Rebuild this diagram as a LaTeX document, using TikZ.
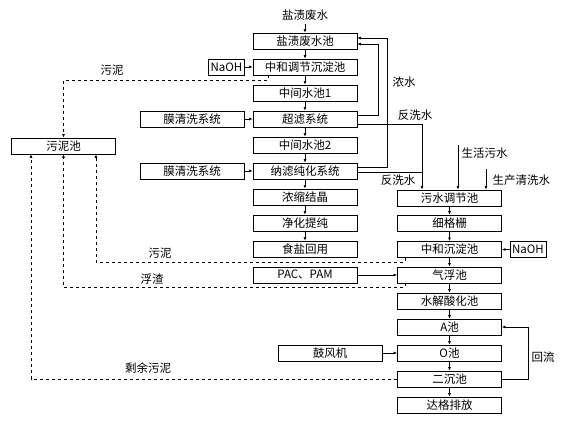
\documentclass[tikz,border=0pt]{standalone}
\usepackage{fontspec}
\setmainfont{Noto Sans CJK SC}
\usetikzlibrary{arrows.meta}

\tikzset{
  box/.style={draw, line width=0.8pt, minimum height=16pt, inner sep=0pt, font=\fontsize{11.5}{12}\selectfont},
  mainbox/.style={box, minimum width=104pt},
  smallbox/.style={box, minimum width=36pt},
  lbl/.style={font=\fontsize{11.5}{12}\selectfont},
  arr/.style={line width=0.7pt, -{Latex[length=3.5pt,width=3pt]}},
  sline/.style={line width=0.7pt},
  dsh/.style={line width=0.8pt, dash pattern=on 3pt off 3pt}
}

\begin{document}
\begin{tikzpicture}[x=1pt,y=-1pt]
  \useasboundingbox (0,0) rectangle (583,439);

  % main column (brine treatment)
  \node[lbl] (raw) at (305,15) {盐渍废水};
  \node[mainbox] (pool) at (305,41) {盐渍废水池};
  \node[mainbox] (neut) at (305,67) {中和调节沉淀池};
  \node[mainbox] (mid1) at (305,93) {中间水池1};
  \node[mainbox] (uf) at (305,119) {超滤系统};
  \node[mainbox] (mid2) at (305,145) {中间水池2};
  \node[mainbox] (nf) at (305,171) {纳滤纯化系统};
  \node[mainbox] (conc) at (305,197) {浓缩结晶};
  \node[mainbox] (puri) at (305,223) {净化提纯};
  \node[mainbox] (salt) at (305,249) {食盐回用};
  \node[mainbox] (pac) at (305,275) {PAC、PAM};

  % side boxes
  \node[smallbox] (naohA) at (226.5,67) {NaOH};
  \node[mainbox] (cleanA) at (192,119) {膜清洗系统};
  \node[mainbox] (cleanB) at (192,171) {膜清洗系统};
  \node[mainbox] (sludge) at (63.5,146) {污泥池};

  % right column (sewage treatment)
  \node[mainbox] (adj) at (449.5,198) {污水调节池};
  \node[mainbox] (grid) at (449.5,223) {细格栅};
  \node[mainbox] (neutB) at (449.5,249.5) {中和沉淀池};
  \node[smallbox] (naohB) at (528,249.5) {NaOH};
  \node[mainbox] (flot) at (449.5,275) {气浮池};
  \node[mainbox] (hydro) at (449.5,301) {水解酸化池};
  \node[mainbox] (apool) at (449.5,327) {A池};
  \node[mainbox] (opool) at (449.5,353) {O池};
  \node[mainbox] (blower) at (330,353) {鼓风机};
  \node[mainbox] (sec) at (449.5,379) {二沉池};
  \node[mainbox] (out) at (449.5,405) {达格排放};

  % main flow
  \draw[arr] (raw) -- (pool);
  \foreach \a/\b in {pool/neut, neut/mid1, mid1/uf, uf/mid2, mid2/nf, nf/conc, conc/puri, puri/salt}
    \draw[arr] (\a) -- (\b);
  \foreach \a/\b in {adj/grid, grid/neutB, neutB/flot, flot/hydro, hydro/apool, apool/opool, opool/sec, sec/out}
    \draw[arr] (\a) -- (\b);

  \draw[arr] (naohA) -- (neut);
  \draw[arr] (cleanA) -- (uf);
  \draw[arr] (cleanB) -- (nf);
  \draw[arr] (naohB) -- (neutB);
  \draw[arr] (pac) -- (flot);
  \draw[arr] (blower) -- (opool);

  % concentrate back to the brine pool
  \draw[arr] ([yshift=4pt]uf.east) -- ++(21,0) |- ([yshift=-3pt]pool.east);
  \draw[arr] ([yshift=4pt]nf.east) -- ++(30,0) |- ([yshift=3pt]pool.east);
  \node[lbl] (lconc) at (404,82) {浓水};

  % backwash water
  \draw[arr] ([yshift=-5pt]uf.east) -| ([xshift=-27.5pt]adj.north);
  \draw[sline] ([yshift=-1pt]nf.east) -- ++(65,0);
  \node[lbl] (lbwA) at (415,115) {反洗水};
  \node[lbl] (lbwB) at (398,180) {反洗水};

  % other inflows
  \coordinate (dom) at (458,145);
  \coordinate (prod) at (486,169);
  \draw[arr] (dom) -- (dom |- adj.north);
  \draw[arr] (prod) -- (prod |- adj.north);
  \node[lbl, anchor=west] (ldom) at (458,153) {生活污水};
  \node[lbl, anchor=west] (lprod) at (489,180) {生产清洗水};

  % return flow
  \draw[arr] (sec.east) -- ++(26,0) |- (apool.east);
  \node[lbl] (lret) at (543,357) {回流};

  % sludge lines
  \draw[dsh, arr] ([xshift=-37pt]neut.south) -- ++(0,5) -| (sludge.north);
  \draw[dsh, arr] ([xshift=-44.5pt]neutB.south) -- ++(0,4) -| ([xshift=32.5pt]sludge.south);
  \draw[dsh, arr] ([xshift=-44.5pt]flot.south) -- ++(0,4) -| (sludge.south);
  \draw[dsh, arr] (sec.west) -| ([xshift=-32.5pt]sludge.south);
  \node[lbl] (lslA) at (112,70) {污泥};
  \node[lbl] (lslB) at (160,253) {污泥};
  \node[lbl] (lscum) at (152,279) {浮渣};
  \node[lbl] (lexc) at (148,368) {剩余污泥};
\end{tikzpicture}
\end{document}
